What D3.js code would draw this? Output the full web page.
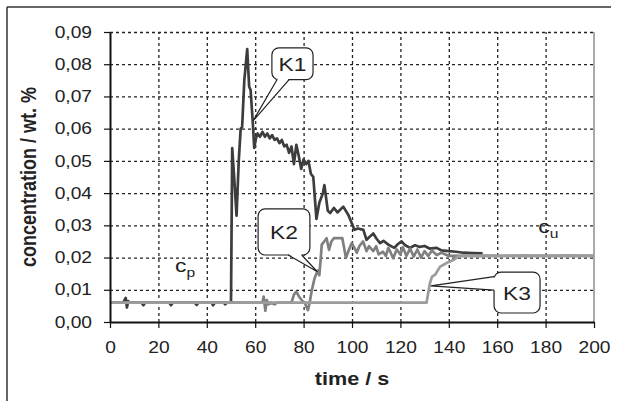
<!DOCTYPE html>
<html>
<head>
<meta charset="utf-8">
<script src="https://cdn.jsdelivr.net/npm/d3@7"></script>
<style>
  body { margin: 0; background: #fff; }
  text { font-family: "Liberation Sans", Arial, sans-serif; }
</style>
</head>
<body>
<div id="chart"></div>
<script>
// K1 (dark) readings, time in s and concentration in wt. %
const k1Time = [0, 5.5, 6.5, 7, 7.5, 8, 13, 13.8, 14.5, 24.5, 25.2, 26, 35, 35.8, 36.5, 42, 42.6, 43.3, 47, 47.6, 48.3, 50,
  50.5, 51.3, 52.3, 53.2, 54, 54.6, 55.5, 56.7, 57.5, 58.1, 59, 59.6, 60.3, 61, 62, 63, 64, 65, 66, 67, 68, 69, 70, 71, 72, 73,
  74, 75, 76, 77, 78, 79, 80, 81, 82, 83, 84, 85.3, 86.5, 88, 88.6, 90, 91, 92.5, 94, 96.4, 98.5, 100, 101, 102.5, 104.7, 106,
  108.8, 110, 111.6, 113, 115, 117.5, 119, 120.5, 122, 124, 126, 128, 130, 132, 135, 137, 140, 143, 146, 150, 154];
const k1Conc = [0.006, 0.006, 0.0075, 0.0045, 0.0065, 0.006, 0.006, 0.0052, 0.006, 0.006, 0.0052, 0.006, 0.006, 0.0053, 0.006,
  0.006, 0.0052, 0.006, 0.006, 0.0055, 0.006, 0.006,
  0.054, 0.045, 0.033, 0.05, 0.06, 0.0605, 0.075, 0.0847, 0.073, 0.072, 0.062, 0.054, 0.057, 0.0585, 0.0575, 0.059, 0.0575,
  0.0585, 0.057, 0.058, 0.0565, 0.057, 0.0555, 0.0565, 0.0545, 0.055, 0.0525, 0.0545, 0.049, 0.055, 0.0515, 0.0475, 0.0505,
  0.049, 0.05, 0.046, 0.045, 0.032, 0.037, 0.04, 0.0425, 0.0345, 0.0338, 0.0354, 0.034, 0.0358, 0.0332, 0.0305, 0.0286, 0.029,
  0.0286, 0.0255, 0.0275, 0.026, 0.0245, 0.0252, 0.024, 0.023, 0.0242, 0.025, 0.0238, 0.023, 0.0238, 0.0233, 0.0236, 0.0228,
  0.023, 0.0222, 0.022, 0.0218, 0.0215, 0.0214, 0.0213];

// K2 (medium grey)
const k2Time = [0, 63, 63.5, 64.2, 64.8, 65.5, 66.5, 68, 69, 75, 76, 77, 78, 79.5, 80.5, 81.3, 81.8, 82.5, 83.3, 84.5, 85.4, 86,
  86.5, 87, 87.5, 88.5, 89.5, 90.5, 91.5, 92.5, 94, 96, 97.5, 98.5, 99.9, 101, 102, 103, 104.6, 106, 107, 108.8, 110, 111,
  112.8, 114, 115, 116, 117, 118.5, 120, 121, 122.5, 124, 125.5, 127, 128.5, 130, 131.5, 133, 135, 137, 140, 150, 160, 170,
  180, 190, 200];
const k2Conc = [0.006, 0.006, 0.0079, 0.0035, 0.0068, 0.0055, 0.006, 0.0055, 0.006, 0.006, 0.0085, 0.0094, 0.008, 0.0065, 0.006,
  0.0045, 0.0037, 0.006, 0.0095, 0.0135, 0.0152, 0.016, 0.0145, 0.019, 0.024, 0.025, 0.026, 0.0224, 0.025, 0.026, 0.026, 0.026,
  0.0199, 0.022, 0.0245, 0.023, 0.0215, 0.0235, 0.025, 0.022, 0.0235, 0.022, 0.0235, 0.021, 0.0218, 0.0205, 0.023, 0.0215,
  0.0198, 0.0225, 0.021, 0.0232, 0.0205, 0.0228, 0.0203, 0.0225, 0.02, 0.022, 0.0205, 0.0222, 0.0208, 0.0215, 0.0205, 0.0206,
  0.0205, 0.0206, 0.0205, 0.0206, 0.0205];

// K3 (light grey)
const k3Time = [0, 130.8, 132.2, 133, 134.5, 136.4, 138.4, 139.5, 141.2, 142.5, 143.8, 146, 200];
const k3Conc = [0.006, 0.006, 0.012, 0.014, 0.0148, 0.0172, 0.018, 0.0185, 0.019, 0.0195, 0.0203, 0.0205, 0.0205];

const xTicks = [0, 20, 40, 60, 80, 100, 120, 140, 160, 180, 200];
const yTicks = [0, 0.01, 0.02, 0.03, 0.04, 0.05, 0.06, 0.07, 0.08, 0.09];

// callouts: tip point, box corners, pointer base (all in data units)
const callouts = [
  { label: 'K1', tip: [59.1, 0.0624], box: [66.9, 0.0851, 83.9, 0.0752], base: [[69, 0.0752], [74, 0.0752]] },
  { label: 'K2', tip: [85.7, 0.0156], box: [61.2, 0.0351, 82.6, 0.0208], base: [[73.6, 0.0208], [79.2, 0.0208]] },
  { label: 'K3', tip: [132.6, 0.0112], box: [158.7, 0.0155, 177.7, 0.0028], base: [[158.7, 0.0141], [158.7, 0.0099]] },
];

const width = 620,
  height = 401;
const sx = 1.2; // the figure is stretched sideways, so is the text

const svg = d3.select('#chart').append('svg').attr('width', width).attr('height', height);

const x = d3.scaleLinear().domain([0, 200]).range([110, 594]);
const y = d3.scaleLinear().domain([0, 0.09]).range([322, 32]);

// outer frame (top and left edges only)
svg.append('line').attr('x1', 7).attr('y1', 7).attr('x2', 611).attr('y2', 7).attr('stroke', '#333').attr('stroke-width', 1.5);
svg.append('line').attr('x1', 7).attr('y1', 7).attr('x2', 7).attr('y2', height).attr('stroke', '#333').attr('stroke-width', 1.5);

// grid
svg
  .append('g')
  .attr('transform', `translate(${x(0)},0)`)
  .call(d3.axisLeft(y).tickValues(yTicks.slice(1)).tickSize(-(x(200) - x(0))).tickFormat(''))
  .call((g) => g.select('.domain').remove())
  .selectAll('line')
  .attr('stroke', '#222')
  .attr('stroke-width', 1.3)
  .attr('stroke-dasharray', '3,3');

svg
  .append('g')
  .attr('transform', `translate(0,${y(0)})`)
  .call(d3.axisBottom(x).tickValues(xTicks.slice(1, -1)).tickSize(-(y(0) - y(0.09))).tickFormat(''))
  .call((g) => g.select('.domain').remove())
  .selectAll('line')
  .attr('stroke', '#222')
  .attr('stroke-width', 1.3)
  .attr('stroke-dasharray', '3,3');

// right border
svg.append('line').attr('x1', x(200)).attr('x2', x(200)).attr('y1', y(0.09)).attr('y2', y(0)).attr('stroke', '#555').attr('stroke-width', 1);

// series
const line = d3
  .line()
  .x((d) => x(d[0]))
  .y((d) => y(d[1]));

const series = [
  { t: k1Time, c: k1Conc, color: '#3d3d3d' },
  { t: k2Time, c: k2Conc, color: '#808080' },
  { t: k3Time, c: k3Conc, color: '#9c9c9c' },
];

series.forEach((s) => {
  svg
    .append('path')
    .datum(s.t.map((t, i) => [t, s.c[i]]))
    .attr('d', line)
    .attr('fill', 'none')
    .attr('stroke', s.color)
    .attr('stroke-width', 2.7)
    .attr('stroke-linejoin', 'round');
});

// axes
const fmt = (d) => d3.format('.2f')(d).replace('.', ',');

const yAxis = svg
  .append('g')
  .attr('transform', `translate(${x(0)},0)`)
  .call(d3.axisLeft(y).tickValues(yTicks).tickFormat(fmt).tickSize(6).tickSizeOuter(0));
yAxis.select('.domain').attr('stroke', '#111').attr('stroke-width', 2);
yAxis.selectAll('.tick line').attr('stroke', '#111').attr('stroke-width', 1.2);
yAxis
  .selectAll('text')
  .attr('x', -18 / sx)
  .attr('transform', `scale(${sx},1)`)
  .attr('font-size', 16)
  .attr('fill', '#222')
  .style('font-family', '"Liberation Sans", Arial, sans-serif');

const xAxis = svg
  .append('g')
  .attr('transform', `translate(0,${y(0)})`)
  .call(d3.axisBottom(x).tickValues(xTicks).tickSize(6).tickSizeOuter(0));
xAxis.select('.domain').attr('stroke', '#111').attr('stroke-width', 2);
xAxis.selectAll('.tick line').attr('stroke', '#111').attr('stroke-width', 1.2);
xAxis
  .selectAll('text')
  .attr('y', 20)
  .attr('transform', `scale(${sx},1)`)
  .attr('font-size', 16)
  .attr('fill', '#222')
  .style('font-family', '"Liberation Sans", Arial, sans-serif');

// axis titles
svg
  .append('text')
  .attr('transform', `translate(${(x(0) + x(200)) / 2},385) scale(${sx},1)`)
  .attr('text-anchor', 'middle')
  .attr('font-size', 18)
  .attr('font-weight', 'bold')
  .attr('fill', '#222')
  .text('time / s');

svg
  .append('text')
  .attr('transform', `translate(36,${(y(0) + y(0.09)) / 2}) scale(${sx},1) rotate(-90)`)
  .attr('text-anchor', 'middle')
  .attr('font-size', 18)
  .attr('font-weight', 'bold')
  .attr('fill', '#222')
  .text('concentration / wt. %');

// c_p and c_u labels
function subLabel(t, c, main, sub) {
  const txt = svg
    .append('text')
    .attr('transform', `translate(${x(t)},${y(c)}) scale(${sx},1)`)
    .attr('font-size', 19)
    .attr('fill', '#222');
  txt.append('tspan').text(main);
  txt.append('tspan').attr('font-size', 13).attr('dy', 5).text(sub);
}
subLabel(26.9, 0.0155, 'c', 'p');
subLabel(177, 0.0277, 'c', 'u');

// callouts
callouts.forEach((co) => {
  const g = svg.append('g');
  const [t0, c0, t1, c1] = co.box;
  g.append('rect')
    .attr('x', x(t0))
    .attr('y', y(c0))
    .attr('width', x(t1) - x(t0))
    .attr('height', y(c1) - y(c0))
    .attr('rx', 7)
    .attr('fill', '#fff')
    .attr('stroke', '#222')
    .attr('stroke-width', 1.2);
  const tip = [x(co.tip[0]), y(co.tip[1])];
  const b1 = [x(co.base[0][0]), y(co.base[0][1])];
  const b2 = [x(co.base[1][0]), y(co.base[1][1])];
  // nudge the base into the box so the white triangle hides the edge
  const cx = (x(t0) + x(t1)) / 2,
    cy = (y(c0) + y(c1)) / 2;
  const inward = (p) => {
    const dx = cx - p[0],
      dy = cy - p[1];
    const len = Math.hypot(dx, dy);
    return [p[0] + (dx / len) * 1.5, p[1] + (dy / len) * 1.5];
  };
  g.append('path')
    .attr('d', `M${tip}L${inward(b1)}L${inward(b2)}Z`)
    .attr('fill', '#fff')
    .attr('stroke', 'none');
  g.append('path')
    .attr('d', `M${b1}L${tip}L${b2}`)
    .attr('fill', 'none')
    .attr('stroke', '#222')
    .attr('stroke-width', 1.2);
  g.append('text')
    .attr('transform', `translate(${cx},${cy + 7}) scale(${sx},1)`)
    .attr('text-anchor', 'middle')
    .attr('font-size', 19)
    .attr('fill', '#222')
    .text(co.label);
});
</script>
</body>
</html>
